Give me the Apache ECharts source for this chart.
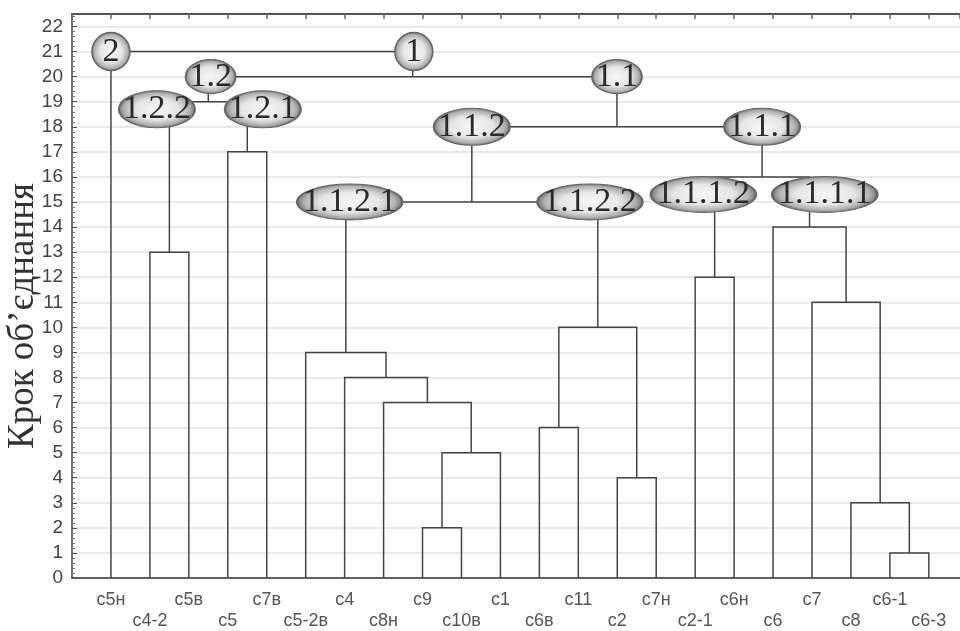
<!DOCTYPE html>
<html>
<head>
<meta charset="utf-8">
<script src="https://cdn.jsdelivr.net/npm/echarts@6/dist/echarts.min.js"></script>
<style>html,body{margin:0;padding:0;background:#fff}#c{width:960px;height:631px}</style>
</head>
<body>
<div id="c"></div>
<script>
// ---- data ----
const leaves = ['c5н','c4-2','c5в','c5','c7в','c5-2в','c4','c8н','c9','c10в','c1','c6в','c11','c2','c7н','c2-1','c6н','c6','c7','c8','c6-1','c6-3'];
// merge k creates node id leaves.length + k
const mergeLeft   = [8, 22, 7, 6, 5, 11, 13, 27, 26, 15, 20, 19, 18, 17, 31, 30, 1, 3, 38, 40, 0];
const mergeRight  = [9, 10, 23, 24, 25, 12, 14, 28, 29, 16, 21, 32, 33, 34, 35, 36, 2, 4, 39, 37, 41];
const mergeHeight = [2, 5, 7, 8, 9, 6, 4, 10, 15, 12, 1, 3, 11, 14, 16, 18, 13, 17, 19, 20, 21];
const clusterNames = ['2','1','1.1','1.2','1.1.1','1.1.2','1.2.1','1.2.2','1.1.1.1','1.1.1.2','1.1.2.1','1.1.2.2'];
const clusterNodes = [0, 41, 37, 40, 36, 30, 39, 38, 35, 31, 26, 29];
const yName = 'Крок об’єднання';

// ---- layout helpers (style) ----
const labelNudge = { // data-unit nudges so ellipses don't overlap
  '1': [0.03, 0], '1.2': [0.06, 0], '1.2.1': [0.4, -0.3], '1.2.2': [-0.32, -0.3],
  '1.1.1.1': [0.39, -0.7], '1.1.1.2': [-0.29, -0.7], '1.1.2.1': [0.1, 0], '1.1.2.2': [-0.2, 0]
};
function ellipseSize(name){
  if (name.length === 1) return [38, 38];
  if (name.length === 3) return [50, 34];
  if (name.length === 5) return [76, 37];
  return [105, 36];
}

// compute node positions
const N = leaves.length;
const nodeX = [], nodeH = [], parentH = {};
leaves.forEach((l,i)=>{ nodeX[i]=i; nodeH[i]=0; });
mergeHeight.forEach((h,k)=>{
  const a = mergeLeft[k], b = mergeRight[k], id = N + k;
  nodeX[id] = (nodeX[a] + nodeX[b]) / 2;
  nodeH[id] = h;
  parentH[a] = h; parentH[b] = h;
});
const linkData = mergeHeight.map((h,k)=>{
  const a = mergeLeft[k], b = mergeRight[k];
  return { coords: [[nodeX[a], nodeH[a]], [nodeX[a], h], [nodeX[b], h], [nodeX[b], nodeH[b]]] };
});
const labelData = clusterNames.map((name,i)=>{
  const n = clusterNodes[i];
  const d = labelNudge[name] || [0,0];
  return { name: name, value: [nodeX[n] + d[0], parentH[n] + d[1]], symbolSize: ellipseSize(name) };
});

const chart = echarts.init(document.getElementById('c'), null, {renderer:'canvas'});
const xCommon = { type:'value', min:-1, max:21.8, interval:1 };
chart.setOption({
  animation:false,
  backgroundColor:'#ffffff',
  grid:{ left:72, right:0, top:14, bottom:53, containLabel:false, outerBoundsMode:'none' },
  xAxis:[
    Object.assign({}, xCommon, {
      position:'bottom',
      axisLine:{ show:true, onZero:false, lineStyle:{ color:'#333', width:1.5 } },
      axisTick:{ show:false },
      splitLine:{ show:false },
      axisLabel:{
        margin:12, fontSize:18, lineHeight:21, color:'#555', fontFamily:'Liberation Sans, Arial',
        showMinLabel:true, showMaxLabel:false,
        formatter:(v)=>{
          if (Math.abs(v - Math.round(v)) > 1e-6) return '';
          const i = Math.round(v);
          if (i < 0 || i >= N) return '';
          return i % 2 === 0 ? leaves[i] : '\n' + leaves[i];
        }
      }
    }),
    Object.assign({}, xCommon, {
      position:'top',
      axisLine:{ show:true, onZero:false, lineStyle:{ color:'#555', width:2 } },
      axisTick:{ show:true, inside:true, length:5, lineStyle:{ color:'#666', width:1.5 } },
      axisLabel:{ show:false },
      splitLine:{ show:false }
    })
  ],
  yAxis:{
    type:'value', min:0, max:22.5, interval:1,
    name:yName, nameLocation:'middle', nameGap:30, nameMoveOverlap:false,
    nameTextStyle:{ fontFamily:'Liberation Serif, Times New Roman, serif', fontSize:37, color:'#333', padding:[0,40,0,0] },
    axisLine:{ show:true, onZero:false, lineStyle:{ color:'#444', width:1.5 } },
    axisTick:{ show:true, inside:true, length:5, lineStyle:{ color:'#555' } },
    minorTick:{ show:true, splitNumber:5, length:3, lineStyle:{ color:'#777' } },
    axisLabel:{ margin:9, fontSize:19, color:'#444', fontFamily:'Liberation Sans, Arial', showMaxLabel:false,
      formatter:(v)=> Number.isInteger(v) ? String(v) : '' },
    splitLine:{ show:true, lineStyle:{ color:'#e2e2e2', width:1.5 } }
  },
  series:[
    {
      type:'lines', coordinateSystem:'cartesian2d', polyline:true, z:3,
      lineStyle:{ color:'#444', width:1.5, opacity:1 },
      data: linkData
    },
    {
      type:'scatter', z:5, symbol:'circle',
      itemStyle:{
        color:{ type:'radial', x:0.5, y:0.5, r:0.5, colorStops:[
          {offset:0, color:'#f6f6f6'}, {offset:0.55, color:'#e6e6e6'},
          {offset:0.85, color:'#b0b0b0'}, {offset:1, color:'#6c6c6c'} ] },
        borderColor:'#666', borderWidth:1.5, opacity:1
      },
      label:{ show:true, position:'inside', formatter:'{b}', fontFamily:'Liberation Serif, Times New Roman, serif',
        fontSize:34, color:'#2a2a2a' },
      emphasis:{ disabled:true },
      data: labelData
    }
  ]
});
</script>
</body>
</html>
